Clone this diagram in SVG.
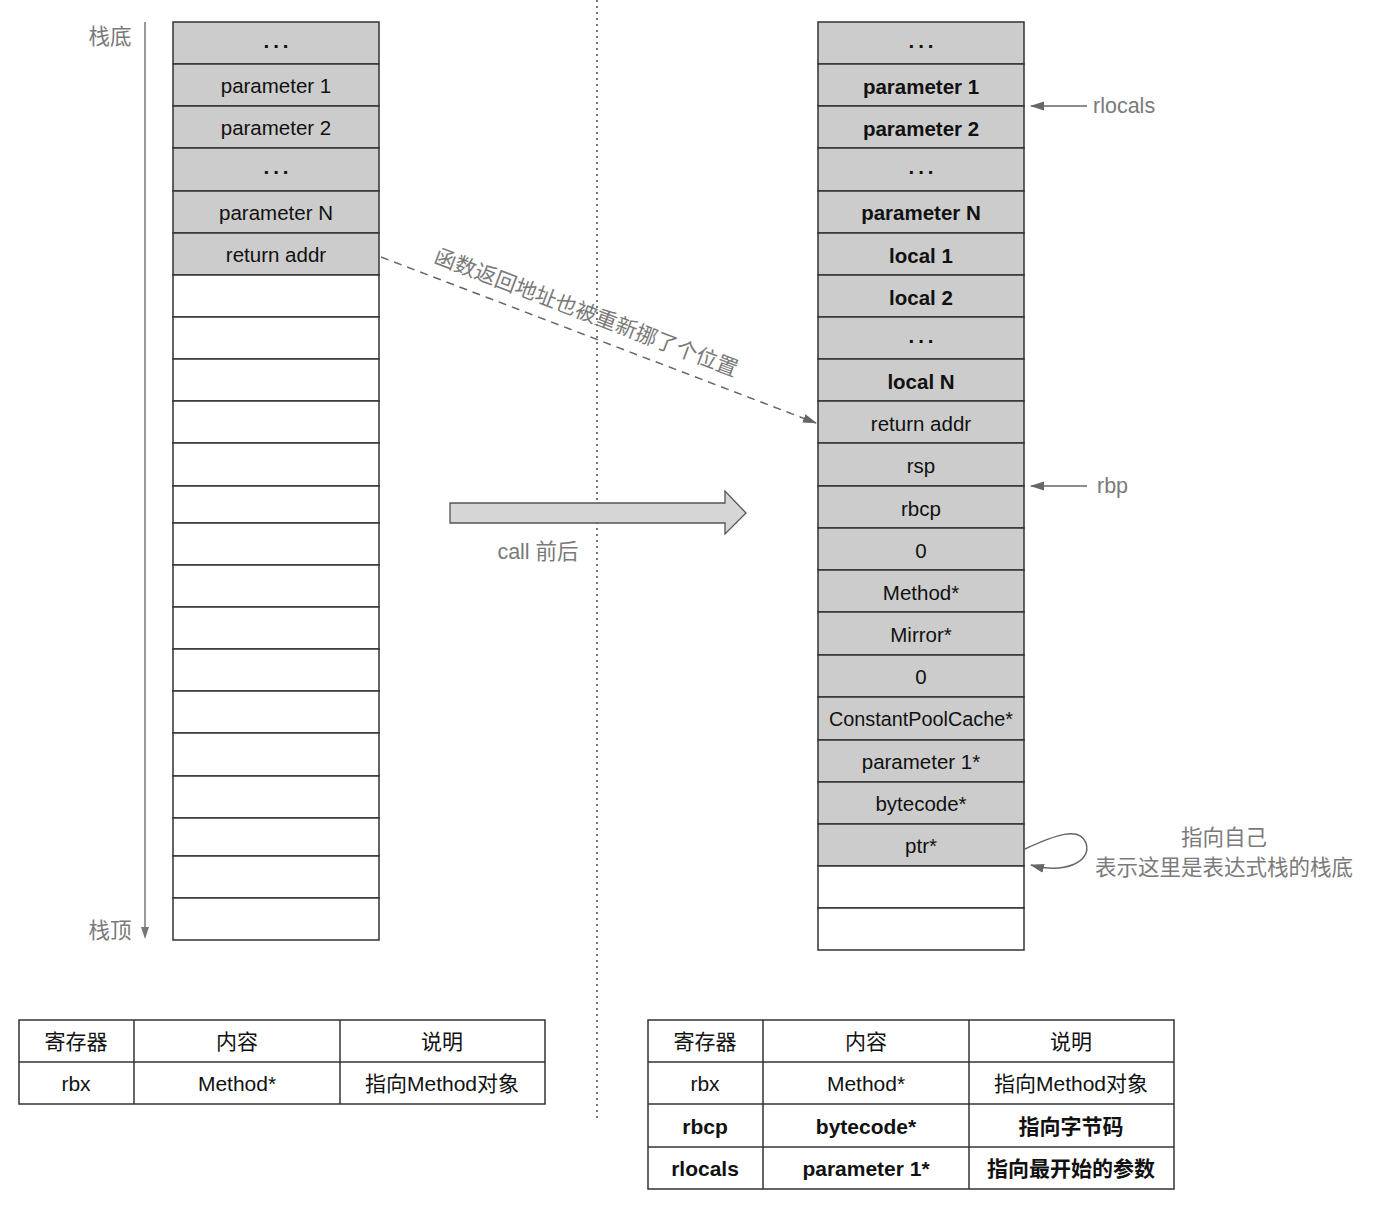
<svg xmlns="http://www.w3.org/2000/svg" width="1376" height="1208" viewBox="0 0 1376 1208">
  <style>
    text { font-family: "Liberation Sans", Arial, "Noto Sans CJK SC", sans-serif; }
    .cell { stroke: #333; stroke-width: 1.5; }
    .full { fill: #cccccc; }
    .empty { fill: #ffffff; }
    .lbl { font-size: 20.5px; fill: #111; text-anchor: middle; dominant-baseline: central; }
    .b { font-weight: bold; }
    .dots { letter-spacing: 4px; font-weight: bold; }
    .note { font-size: 21.5px; fill: #7a7a7a; dominant-baseline: central; }
    .tbl { fill: #fff; stroke: #333; stroke-width: 1.5; }
    .tt { font-size: 21px; fill: #111; text-anchor: middle; dominant-baseline: central; }
    .con { stroke: #666; stroke-width: 1.5; fill: none; }
  </style>
  <defs>
    <marker id="ah2" markerWidth="14" markerHeight="10" refX="13" refY="5" orient="auto" markerUnits="userSpaceOnUse">
      <path d="M0,0.5 L14,5 L0,9.5 Z" fill="#666"/>
    </marker>
  </defs>

  <rect width="1376" height="1208" fill="#fff"/>

  <!-- divider between the two states -->
  <line x1="597" y1="0" x2="597" y2="1120" stroke="#555" stroke-width="1.6" stroke-dasharray="2,4"/>

  <!-- stack direction on the left -->
  <g id="stack-direction">
    <line x1="145" y1="22" x2="145" y2="930" stroke="#777" stroke-width="1.5"/>
    <path d="M141,927 L149,927 L145,939 Z" fill="#777"/>
    <text class="note" x="110" y="37" text-anchor="middle">栈底</text>
    <text class="note" x="110" y="931" text-anchor="middle">栈顶</text>
  </g>

  <!-- stack before the call -->
  <g id="stack-before">
    <g id="b0"><rect class="cell full" x="173" y="22" width="206" height="42"/><text class="lbl dots" x="278" y="40">...</text></g>
    <g id="b1"><rect class="cell full" x="173" y="64" width="206" height="42"/><text class="lbl" x="276" y="85">parameter 1</text></g>
    <g id="b2"><rect class="cell full" x="173" y="106" width="206" height="42"/><text class="lbl" x="276" y="127">parameter 2</text></g>
    <g id="b3"><rect class="cell full" x="173" y="148" width="206" height="43"/><text class="lbl dots" x="278" y="166">...</text></g>
    <g id="b4"><rect class="cell full" x="173" y="191" width="206" height="42"/><text class="lbl" x="276" y="212">parameter N</text></g>
    <g id="b5"><rect class="cell full" x="173" y="233" width="206" height="42"/><text class="lbl" x="276" y="254">return addr</text></g>
    <g id="b6"><rect class="cell empty" x="173" y="275" width="206" height="42"/></g>
    <g id="b7"><rect class="cell empty" x="173" y="317" width="206" height="42"/></g>
    <g id="b8"><rect class="cell empty" x="173" y="359" width="206" height="42"/></g>
    <g id="b9"><rect class="cell empty" x="173" y="401" width="206" height="42"/></g>
    <g id="b10"><rect class="cell empty" x="173" y="443" width="206" height="43"/></g>
    <g id="b11"><rect class="cell empty" x="173" y="486" width="206" height="37"/></g>
    <g id="b12"><rect class="cell empty" x="173" y="523" width="206" height="42"/></g>
    <g id="b13"><rect class="cell empty" x="173" y="565" width="206" height="42"/></g>
    <g id="b14"><rect class="cell empty" x="173" y="607" width="206" height="42"/></g>
    <g id="b15"><rect class="cell empty" x="173" y="649" width="206" height="42"/></g>
    <g id="b16"><rect class="cell empty" x="173" y="691" width="206" height="42"/></g>
    <g id="b17"><rect class="cell empty" x="173" y="733" width="206" height="43"/></g>
    <g id="b18"><rect class="cell empty" x="173" y="776" width="206" height="42"/></g>
    <g id="b19"><rect class="cell empty" x="173" y="818" width="206" height="38"/></g>
    <g id="b20"><rect class="cell empty" x="173" y="856" width="206" height="42"/></g>
    <g id="b21"><rect class="cell empty" x="173" y="898" width="206" height="42"/></g>
  </g>

  <!-- stack after the call -->
  <g id="stack-after">
    <g id="a0"><rect class="cell full" x="818" y="22" width="206" height="42"/><text class="lbl dots" x="923" y="40">...</text></g>
    <g id="a1"><rect class="cell full" x="818" y="64" width="206" height="42"/><text class="lbl b" x="921" y="86">parameter 1</text></g>
    <g id="a2"><rect class="cell full" x="818" y="106" width="206" height="42"/><text class="lbl b" x="921" y="128">parameter 2</text></g>
    <g id="a3"><rect class="cell full" x="818" y="148" width="206" height="43"/><text class="lbl dots" x="923" y="166">...</text></g>
    <g id="a4"><rect class="cell full" x="818" y="191" width="206" height="42"/><text class="lbl b" x="921" y="212">parameter N</text></g>
    <g id="a5"><rect class="cell full" x="818" y="233" width="206" height="42"/><text class="lbl b" x="921" y="255">local 1</text></g>
    <g id="a6"><rect class="cell full" x="818" y="275" width="206" height="42"/><text class="lbl b" x="921" y="297">local 2</text></g>
    <g id="a7"><rect class="cell full" x="818" y="317" width="206" height="42"/><text class="lbl dots" x="923" y="335">...</text></g>
    <g id="a8"><rect class="cell full" x="818" y="359" width="206" height="42"/><text class="lbl b" x="921" y="381">local N</text></g>
    <g id="a9"><rect class="cell full" x="818" y="401" width="206" height="42"/><text class="lbl" x="921" y="423">return addr</text></g>
    <g id="a10"><rect class="cell full" x="818" y="443" width="206" height="43"/><text class="lbl" x="921" y="465">rsp</text></g>
    <g id="a11"><rect class="cell full" x="818" y="486" width="206" height="42"/><text class="lbl" x="921" y="508">rbcp</text></g>
    <g id="a12"><rect class="cell full" x="818" y="528" width="206" height="42"/><text class="lbl" x="921" y="550">0</text></g>
    <g id="a13"><rect class="cell full" x="818" y="570" width="206" height="42"/><text class="lbl" x="921" y="592">Method*</text></g>
    <g id="a14"><rect class="cell full" x="818" y="612" width="206" height="43"/><text class="lbl" x="921" y="634">Mirror*</text></g>
    <g id="a15"><rect class="cell full" x="818" y="655" width="206" height="42"/><text class="lbl" x="921" y="676">0</text></g>
    <g id="a16"><rect class="cell full" x="818" y="697" width="206" height="43"/><text class="lbl" x="921" y="718" textLength="184" lengthAdjust="spacingAndGlyphs">ConstantPoolCache*</text></g>
    <g id="a17"><rect class="cell full" x="818" y="740" width="206" height="42"/><text class="lbl" x="921" y="761">parameter 1*</text></g>
    <g id="a18"><rect class="cell full" x="818" y="782" width="206" height="42"/><text class="lbl" x="921" y="803">bytecode*</text></g>
    <g id="a19"><rect class="cell full" x="818" y="824" width="206" height="42"/><text class="lbl" x="921" y="845">ptr*</text></g>
    <g id="a20"><rect class="cell empty" x="818" y="866" width="206" height="42"/></g>
    <g id="a21"><rect class="cell empty" x="818" y="908" width="206" height="42"/></g>
  </g>

  <!-- call transition arrow -->
  <g id="call-arrow">
    <path d="M450,503 L725,503 L725,491 L746,513 L725,534 L725,523 L450,523 Z" fill="#d6d6d6" stroke="#555" stroke-width="1.3"/>
    <text class="note" x="538" y="552" text-anchor="middle">call 前后</text>
  </g>

  <!-- register pointers and notes -->
  <g id="rlocals-label"><text class="note" x="1093" y="106">rlocals</text></g>
  <g id="rbp-label"><text class="note" x="1097" y="486">rbp</text></g>
  <g id="self-note">
    <text class="note" x="1224" y="838" text-anchor="middle">指向自己</text>
    <text class="note" x="1224" y="868" text-anchor="middle">表示这里是表达式栈的栈底</text>
  </g>
  <g id="moved-note">
    <text class="note" x="586" y="313" text-anchor="middle" transform="rotate(20.8 586 313)">函数返回地址也被重新挪了个位置</text>
  </g>

  <!-- connectors -->
  <g id="connectors">
    <line class="con" x1="381" y1="257" x2="816" y2="423" stroke-dasharray="8,6" marker-end="url(#ah2)"/>
    <line class="con" x1="1087" y1="106" x2="1031" y2="106" marker-end="url(#ah2)"/>
    <line class="con" x1="1087" y1="486" x2="1031" y2="486" marker-end="url(#ah2)"/>
    <path class="con" d="M1025,849 C1055,835 1080,826 1086,843 C1092,862 1065,874 1031,865" marker-end="url(#ah2)"/>
  </g>

  <!-- register table before the call -->
  <g id="table-before">
    <rect class="tbl" x="19" y="1020" width="526" height="84"/>
    <line class="tbl" x1="19" y1="1062" x2="545" y2="1062"/>
    <line class="tbl" x1="134" y1="1020" x2="134" y2="1104"/>
    <line class="tbl" x1="340" y1="1020" x2="340" y2="1104"/>
    <text class="tt" x="76" y="1041">寄存器</text>
    <text class="tt" x="237" y="1041">内容</text>
    <text class="tt" x="442" y="1041">说明</text>
    <text class="tt" x="76" y="1083">rbx</text>
    <text class="tt" x="237" y="1083">Method*</text>
    <text class="tt" x="442" y="1083">指向Method对象</text>
  </g>

  <!-- register table after the call -->
  <g id="table-after">
    <rect class="tbl" x="648" y="1020" width="526" height="169"/>
    <line class="tbl" x1="648" y1="1062" x2="1174" y2="1062"/>
    <line class="tbl" x1="648" y1="1104" x2="1174" y2="1104"/>
    <line class="tbl" x1="648" y1="1147" x2="1174" y2="1147"/>
    <line class="tbl" x1="763" y1="1020" x2="763" y2="1189"/>
    <line class="tbl" x1="969" y1="1020" x2="969" y2="1189"/>
    <text class="tt" x="705" y="1041">寄存器</text>
    <text class="tt" x="866" y="1041">内容</text>
    <text class="tt" x="1071" y="1041">说明</text>
    <text class="tt" x="705" y="1083">rbx</text>
    <text class="tt" x="866" y="1083">Method*</text>
    <text class="tt" x="1071" y="1083">指向Method对象</text>
    <text class="tt b" x="705" y="1126">rbcp</text>
    <text class="tt b" x="866" y="1126">bytecode*</text>
    <text class="tt b" x="1071" y="1126">指向字节码</text>
    <text class="tt b" x="705" y="1168">rlocals</text>
    <text class="tt b" x="866" y="1168">parameter 1*</text>
    <text class="tt b" x="1071" y="1168">指向最开始的参数</text>
  </g>
</svg>
